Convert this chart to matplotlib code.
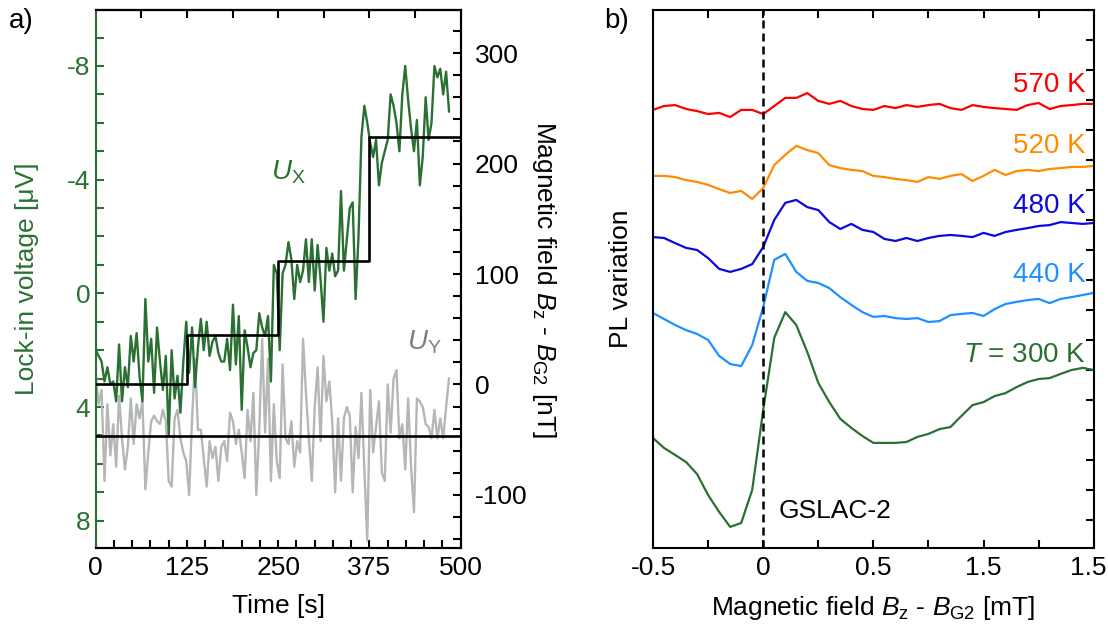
import matplotlib

matplotlib.use("Agg")
import matplotlib.pyplot as plt  # noqa: E402
import matplotlib.transforms as mtransforms  # noqa: E402
import numpy as np  # noqa: E402
from matplotlib.ticker import MultipleLocator  # noqa: E402

plt.rcParams["font.family"] = ["Liberation Sans", "DejaVu Sans"]
plt.rcParams["mathtext.fontset"] = "custom"
plt.rcParams["mathtext.rm"] = "Liberation Sans"
plt.rcParams["mathtext.it"] = "Liberation Sans:italic"
plt.rcParams["axes.unicode_minus"] = False
plt.rcParams["font.size"] = 19

# ---- panel a: lock-in signal vs time (4 s sampling) ----
t_step = 4.0
u_x = [
    2.0, 2.2, 2.4, 3.1, 2.6, 3.2, 3.1, 3.8, 1.8, 3.8, 2.6, 3.3, 1.5, 2.4, 1.4, 2.9,
    3.8, 0.2, 2.4, 1.6, 3.5, 1.2, 2.4, 3.4, 2.2, 5.0, 2.0, 3.7, 2.9, 4.2, 2.4, 1.0,
    2.8, 1.2, 3.3, 1.9, 0.9, 2.0, 1.0, 2.2, 1.7, 1.5, 2.1, 2.4, 2.4, 1.6, 2.7, 0.4,
    2.5, 0.8, 4.1, 1.3, 1.9, 2.6, 2.1, 2.0, 0.7, 1.2, 1.5, 0.8, 3.1, -1.0, -0.7,
    2.0, -0.7, -1.0, -1.8, -1.2, 0.2, -1.0, -0.4, -0.8, -1.9, -0.4, -1.9, -0.1, -1.7,
    -0.5, 1.0, -1.6, -0.8, -1.4, -0.6, -0.8, -3.6, -0.8, -1.9, -3.0, -3.2, 0.2, -2.0,
    -5.5, -6.6, -6.0,
    -5.3, -4.8, -5.4, -3.8, -4.6, -5.0, -5.4, -7.0, -6.6, -6.0, -5.0, -7.0, -8.0, -6.8,
    -5.8, -5.0, -6.1, -3.8, -4.8, -6.9, -5.4, -6.0, -8.0, -7.6, -7.9, -7.0, -7.8, -6.4,
]
u_y = [
    2.8, 3.9, 3.4, 6.6, 3.9, 5.7, 4.6, 6.1, 3.6, 5.1, 6.2, 5.4, 3.7, 5.3, 3.9, 4.4,
    3.8, 6.9, 5.6, 4.5, 4.3, 4.5, 4.6, 4.1, 4.5, 6.6, 6.8, 4.4, 4.1, 5.1, 5.6, 5.9,
    7.1, 4.4, 2.3, 4.8, 4.8, 5.8, 6.8, 5.2, 5.8, 5.4, 6.6, 5.4, 5.2, 5.9, 4.2, 4.5,
    5.3, 4.8, 5.6, 6.5, 4.1, 5.2, 3.5, 7.1, 4.8, 1.6, 4.9, 2.3, 6.6, 3.9, 5.9,
    6.5, 2.5, 5.1, 5.3, 4.5, 6.1, 5.2, 5.6, 1.6, 3.5, 5.1, 6.6, 4.0, 2.6, 5.2, 2.2,
    3.8, 3.1, 4.5, 7.0, 4.4, 6.6, 4.4, 4.0, 4.3, 7.0, 4.7, 5.8, 3.5, 6.2, 8.7,
    3.4, 5.6, 4.7, 3.8, 6.3, 6.6, 3.2, 4.9, 3.0, 2.7, 5.1, 4.6, 6.2, 3.7, 6.1, 7.7,
    3.7, 3.8, 4.0, 4.6, 4.7, 5.1, 4.1, 5.1, 4.4, 5.1, 4.0, 3.0,
]
time_s = np.arange(len(u_x)) * t_step

step_edges_s = [0, 125, 250, 375, 500]
step_field_nT = [0, 45, 112, 224, 224]
baseline_nT = -47

time_ticks = [0, 125, 250, 375, 500]
time_top_ticks = [62.5, 125, 187.5, 250, 312.5, 375, 437.5]
volt_ticks = [-8, -4, 0, 4, 8]
field_nT_ticks = [-100, 0, 100, 200, 300]

# ---- panel b: PL variation vs magnetic field ----
field_mT = [
    -0.5, -0.45, -0.4, -0.35, -0.3, -0.25, -0.2, -0.15, -0.1, -0.05, 0.0,
    0.05, 0.1, 0.15, 0.2, 0.25, 0.3, 0.35, 0.4, 0.45, 0.5,
    0.55, 0.6, 0.65, 0.7, 0.75, 0.8, 0.85, 0.9, 0.95, 1.0,
    1.05, 1.1, 1.15, 1.2, 1.25, 1.3, 1.35, 1.4, 1.45, 1.5,
]
pl_570 = [
    14.67, 14.80, 14.83, 14.70, 14.63, 14.53, 14.57, 14.43, 14.67, 14.67, 14.53,
    14.80, 15.07, 15.07, 15.23, 14.97, 14.87, 14.97, 14.80, 14.70, 14.67,
    14.80, 14.73, 14.83, 14.77, 14.83, 14.87, 14.73, 14.67, 14.83, 14.77,
    14.73, 14.70, 14.67, 14.83, 14.90, 14.70, 14.80, 14.83, 14.87, 14.87,
]
pl_520 = [
    12.47, 12.47, 12.43, 12.33, 12.27, 12.17, 12.03, 11.90, 11.97, 11.70, 12.07,
    12.83, 13.17, 13.47, 13.33, 13.23, 12.83, 12.73, 12.67, 12.63, 12.47,
    12.43, 12.37, 12.33, 12.27, 12.43, 12.37, 12.47, 12.53, 12.30, 12.47,
    12.67, 12.50, 12.63, 12.67, 12.63, 12.70, 12.73, 12.77, 12.77, 12.80,
]
pl_480 = [
    10.43, 10.40, 10.23, 10.07, 10.00, 9.73, 9.37, 9.27, 9.37, 9.53, 10.10,
    11.00, 11.57, 11.67, 11.43, 11.33, 10.93, 10.70, 10.87, 10.67, 10.60,
    10.37, 10.30, 10.40, 10.30, 10.40, 10.47, 10.50, 10.47, 10.43, 10.57,
    10.47, 10.60, 10.67, 10.73, 10.80, 10.83, 10.93, 10.90, 10.87, 10.90,
]
pl_440 = [
    7.90, 7.70, 7.50, 7.33, 7.20, 7.00, 6.47, 6.20, 6.13, 6.83, 8.10,
    9.67, 9.87, 9.27, 8.97, 8.90, 8.73, 8.43, 8.17, 7.93, 7.77,
    7.80, 7.73, 7.70, 7.73, 7.60, 7.63, 7.83, 7.87, 7.90, 7.80,
    8.03, 8.20, 8.27, 8.33, 8.37, 8.23, 8.37, 8.43, 8.50, 8.57,
]
pl_300 = [
    3.73, 3.40, 3.17, 2.93, 2.53, 1.83, 1.27, 0.77, 0.90, 2.00, 4.67,
    7.07, 7.93, 7.50, 6.60, 5.57, 4.93, 4.37, 4.07, 3.80, 3.57,
    3.57, 3.57, 3.60, 3.77, 3.87, 4.03, 4.10, 4.47, 4.83, 4.93,
    5.13, 5.23, 5.43, 5.60, 5.70, 5.73, 5.87, 6.00, 6.07, 6.00,
]
temp_labels = ["570 K", "520 K", "480 K", "440 K", r"$T$ = 300 K"]
temp_label_pos = [15.28, 13.23, 11.23, 8.93, 6.28]
curve_colors = ["#ff0000", "#ff8c00", "#0a0ae0", "#1e90ff", "#2b7033"]

field_mT_ticks = [-0.5, 0, 0.5, 1.0, 1.5]
field_mT_labels = ["-0.5", "0", "0.5", "1.5", "1.5"]

GREEN = "#2b7033"
GRAY = "#b5b7b5"
SPINE_W = 1.5

fig = plt.figure(figsize=(11.08, 6.28), dpi=100)

# ---------------- panel a ----------------
ax = fig.add_axes([0.0864, 0.1274, 0.3294, 0.8567])
ax2 = ax.twinx()

ax.plot(time_s, u_y, color=GRAY, lw=1.7)
ax.plot(time_s, u_x, color=GREEN, lw=1.7)
ax.set_xlim(0, 500)
ax.set_ylim(8.96, -9.97)
ax.set_xticks(time_ticks)
ax.set_xticklabels([str(v) for v in time_ticks])
ax.xaxis.set_minor_locator(MultipleLocator(25))
ax.set_yticks(volt_ticks)
ax.set_yticklabels([str(v) for v in volt_ticks])
ax.yaxis.set_minor_locator(MultipleLocator(1))
ax.tick_params(which="both", direction="in", length=6, width=SPINE_W, top=False)
ax.tick_params(axis="x", pad=6)
ax.tick_params(axis="y", which="both", colors=GREEN, pad=4)
for s in ax.spines.values():
    s.set_linewidth(SPINE_W)
ax.spines["left"].set_color(GREEN)
ax.set_xlabel("Time [s]")
ax.xaxis.set_label_coords(0.5, -0.085)
ax.set_ylabel("Lock-in voltage [μV]", color=GREEN)
ax.yaxis.set_label_coords(-0.155, 0.5)

top = ax.secondary_xaxis("top")
top.set_xticks(time_top_ticks)
top.tick_params(direction="in", length=6, width=SPINE_W, labeltop=False)
top.spines["top"].set_linewidth(SPINE_W)

ax2.step(step_edges_s, step_field_nT, where="post", color="k", lw=1.9)
ax2.axhline(baseline_nT, color="k", lw=1.9)
ax2.set_ylim(-148, 339)
ax2.set_yticks(field_nT_ticks)
ax2.set_yticklabels([str(v) for v in field_nT_ticks])
ax2.yaxis.set_minor_locator(MultipleLocator(20))
ax2.tick_params(which="both", direction="in", length=6, width=SPINE_W, pad=10)
ax2.spines["left"].set_visible(False)
for s in ["right", "top", "bottom"]:
    ax2.spines[s].set_linewidth(SPINE_W)
ax2.set_ylabel(r"Magnetic field $B_\mathrm{z}$ - $B_\mathrm{G2}$ [nT]",
               rotation=270, va="bottom")
ax2.yaxis.set_label_coords(1.19, 0.5)

ax.text(240, -4.0, r"$U_\mathrm{X}$", color=GREEN, fontsize=20, va="baseline")
ax.text(426, 1.96, r"$U_\mathrm{Y}$", color="#808080", fontsize=20, va="baseline")

# ---------------- panel b ----------------
bx = fig.add_axes([0.5894, 0.1274, 0.3977, 0.8567])
curves = [pl_570, pl_520, pl_480, pl_440, pl_300]
for vals, col, lab, ypos in zip(curves, curve_colors, temp_labels, temp_label_pos):
    bx.plot(field_mT, vals, color=col, lw=1.6)
    bx.text(1.464, ypos, lab, color=col, fontsize=20, ha="right", va="baseline")
bx.axvline(0, color="k", lw=1.8, ls=(0, (3.2, 2.0)))
bx.text(0.068, 1.07, "GSLAC-2", fontsize=19, ha="left", va="baseline")

bx.set_xlim(-0.5, 1.5)
bx.set_ylim(0.067, 18)
bx.set_xticks(field_mT_ticks)
bx.set_xticklabels(field_mT_labels)
bx.xaxis.set_minor_locator(MultipleLocator(0.25))
bx.set_yticks(range(1, 19))
bx.tick_params(which="both", direction="in", length=6, width=SPINE_W,
               top=True, left=False, right=True, labelleft=False, labelright=False)
bx.tick_params(axis="x", pad=6)
for s in bx.spines.values():
    s.set_linewidth(SPINE_W)
# keep the last tick label inside the canvas
last = bx.get_xticklabels()[-1]
last.set_transform(last.get_transform()
                   + mtransforms.ScaledTranslation(-4 / 72, 0, fig.dpi_scale_trans))
bx.set_xlabel(r"Magnetic field $B_\mathrm{z}$ - $B_\mathrm{G2}$ [mT]")
bx.xaxis.set_label_coords(0.5, -0.085)
bx.set_ylabel("PL variation")
bx.yaxis.set_label_position("left")
bx.yaxis.set_label_coords(-0.045, 0.5)

fig.text(9 / 1108, 1 - 8 / 628, "a)", ha="left", va="top", fontsize=20)
fig.text(604 / 1108, 1 - 8 / 628, "b)", ha="left", va="top", fontsize=20)

fig.savefig("out.png", dpi=100)
plt.close(fig)
